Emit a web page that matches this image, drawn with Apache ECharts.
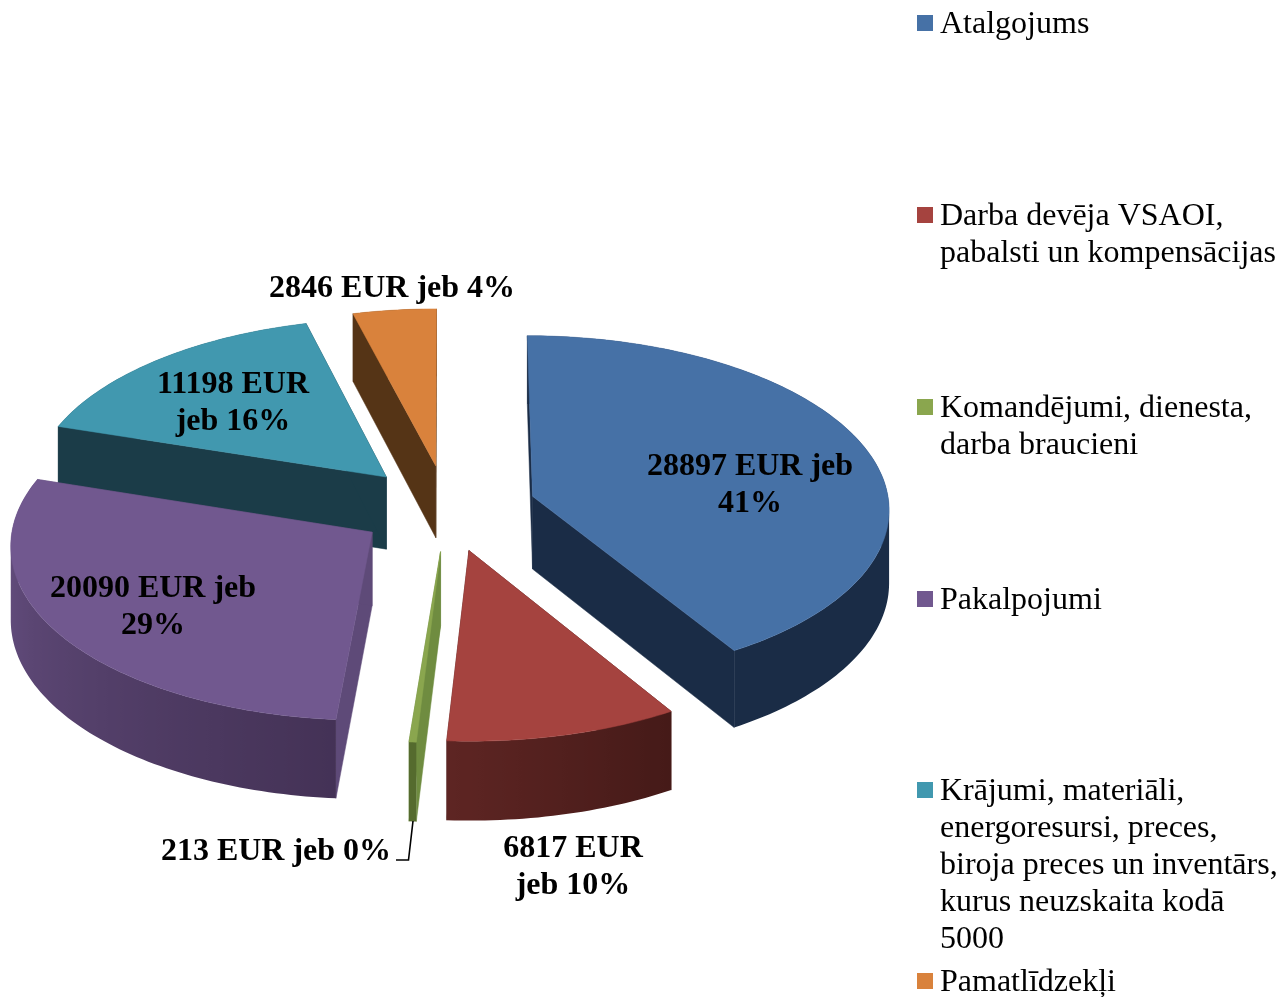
<!DOCTYPE html>
<html>
<head>
<meta charset="utf-8">
<style>html,body{margin:0;padding:0;background:#fff}#chart{width:1279px;height:997px}</style>
<script src="https://cdn.jsdelivr.net/npm/echarts@6/dist/echarts.min.js"></script>
</head>
<body>
<div id="chart"></div>
<script>
// ---- data ----
const categoryLines = [
  ['Atalgojums'],
  ['Darba devēja VSAOI,', 'pabalsti un kompensācijas'],
  ['Komandējumi, dienesta,', 'darba braucieni'],
  ['Pakalpojumi'],
  ['Krājumi, materiāli,', 'energoresursi, preces,', 'biroja preces un inventārs,', 'kurus neuzskaita kodā', '5000'],
  ['Pamatlīdzekļi']
];
const values = [28897, 6817, 213, 20090, 11198, 2846];
const percents = [41, 10, 0, 29, 16, 4];

// ---- styles and layout ----
const topColors = ['#4671A6', '#A5433F', '#8AA64E', '#71588F', '#4198AF', '#D9823C'];
const faceColors = ['#1A2C46', '#4A1C1A', '#6F8C40', '#5E4A78', '#1B3C48', '#553416'];
const wallFrom = [[26, 44, 70], [69, 26, 24], [85, 107, 46], [68, 50, 86], [27, 60, 72], [85, 52, 22]];
const wallTo = [[26, 44, 70], [94, 37, 35], [85, 107, 46], [98, 76, 124], [27, 60, 72], [85, 52, 22]];
const view = { cx: 447, cy: 508, a: 357, b: 172.5, p: 0.065, depth: 73, explode: 0.25 };
const LH = 37, FONT_B = 'bold 32px "Liberation Serif"';
const legendTops = [6, 198, 390, 582, 773, 964];
const labelBoxes = [
  { x: 750, y: 485, text: (v, p) => v + ' EUR jeb\n' + p },
  { x: 573, y: 867, text: (v, p) => v + ' EUR\njeb ' + p },
  { x: 276, y: 852, text: (v, p) => v + ' EUR jeb ' + p },
  { x: 153, y: 607, text: (v, p) => v + ' EUR jeb\n' + p },
  { x: 233, y: 403, text: (v, p) => v + ' EUR\njeb ' + p },
  { x: 392, y: 289, text: (v, p) => v + ' EUR jeb ' + p }
];

const total = values.reduce((s, v) => s + v, 0);
const starts = [];
values.reduce((acc, v, i) => { starts[i] = acc; return acc + v; }, 0);
const toAngle = v => v / total * Math.PI * 2;

function project(X, Y, Z) {
  const s = 1 / (1 + view.p * Y);
  return [view.cx + view.a * X * s, view.cy - view.b * Y * s + view.depth * Z * s];
}
function lerp(c1, c2, t) {
  return 'rgb(' + c1.map((c, k) => Math.round(c + (c2[k] - c) * t)).join(',') + ')';
}
// a closed sub-path, always wound the same way so overlaps stay filled
function subPath(pts) {
  let area = 0;
  pts.forEach((q, n) => {
    const r = pts[(n + 1) % pts.length];
    area += q[0] * r[1] - r[0] * q[1];
  });
  const list = area < 0 ? pts.slice().reverse() : pts;
  return 'M' + list.map(q => q[0].toFixed(2) + ' ' + q[1].toFixed(2)).join('L') + 'Z';
}
// horizontal shading: stops follow the rim only while its x keeps one direction
function wallGradient(i, top) {
  let run = 1;
  const dir = Math.sign(top[1][0] - top[0][0]);
  while (run < top.length - 1 && Math.sign(top[run + 1][0] - top[run][0]) === dir) run++;
  const used = top.slice(0, run + 1);
  const xs = used.map(q => q[0]);
  const minX = Math.min.apply(null, xs), maxX = Math.max.apply(null, xs);
  const colorStops = used.map((q, k) => ({
    offset: maxX > minX ? (q[0] - minX) / (maxX - minX) : 0,
    color: lerp(wallFrom[i], wallTo[i], k / run)
  })).sort((u, v) => u.offset - v.offset);
  return { type: 'linear', x: minX, y: 0, x2: maxX, y2: 0, global: true, colorStops };
}
function renderSlice(i) {
  return function () {
    const a0 = toAngle(starts[i]), a1 = toAngle(starts[i] + values[i]), mid = (a0 + a1) / 2;
    const ox = view.explode * Math.sin(mid), oy = view.explode * Math.cos(mid);
    const steps = Math.max(2, Math.ceil((a1 - a0) / 0.02));
    const rim = Z => {
      const pts = [];
      for (let k = 0; k <= steps; k++) {
        const t = a0 + (a1 - a0) * k / steps;
        pts.push(project(ox + Math.sin(t), oy + Math.cos(t), Z));
      }
      return pts;
    };
    const top = rim(0), bottom = rim(1);
    const apexT = project(ox, oy, 0), apexB = project(ox, oy, 1);
    const children = [];
    const poly = (points, fill) => children.push({
      type: 'polygon', shape: { points },
      style: { fill, stroke: fill, lineWidth: 0.5 }
    });
    // cut faces
    poly([apexT, top[0], bottom[0], apexB], faceColors[i]);
    poly([apexT, top[steps], bottom[steps], apexB], faceColors[i]);
    // outer wall: one path made of strips
    let pathData = '';
    for (let k = 0; k < steps; k++) {
      pathData += subPath([top[k], top[k + 1], bottom[k + 1], bottom[k]]);
    }
    children.push({
      type: 'path', shape: { pathData },
      style: { fill: wallGradient(i, top) }
    });
    // top face
    poly([apexT].concat(top), topColors[i]);
    return { type: 'group', children };
  };
}

// painter order: far slices first
const order = values.map((v, i) => i).sort((p, q) => {
  const m = j => toAngle(starts[j] + values[j] / 2);
  return Math.cos(m(q)) - Math.cos(m(p));
});

const categories = categoryLines.map(l => l.join(' '));
const series = values.map((v, i) => ({
  type: 'custom',
  name: categories[i],
  coordinateSystem: 'none',
  data: [v],
  z: 2 + order.indexOf(i),
  silent: true,
  itemStyle: { color: topColors[i] },
  renderItem: renderSlice(i)
}));

const legends = categoryLines.map((lines, i) => {
  const h = lines.length * LH;
  return {
    left: 917, top: legendTops[i], padding: 0, orient: 'vertical',
    itemWidth: 18, itemHeight: h, itemGap: 0, selectedMode: false,
    symbolKeepAspect: true,
    data: [{
      name: categories[i],
      icon: 'path://M0 0L0.01 0M18 ' + h + 'L17.99 ' + h + 'M0 9L16 9L16 25L0 25Z',
      itemStyle: { color: topColors[i], borderWidth: 0 }
    }],
    formatter: () => lines.join('\n'),
    textStyle: { fontFamily: 'Liberation Serif', fontSize: 32, lineHeight: LH, color: '#000' }
  };
});

const graphics = values.map((v, i) => ({
  type: 'text', z: 100, silent: true,
  style: {
    text: labelBoxes[i].text(v, percents[i] + '%'), x: labelBoxes[i].x, y: labelBoxes[i].y,
    align: 'center', verticalAlign: 'middle',
    font: FONT_B, lineHeight: LH, fill: '#000'
  }
}));
graphics.push({
  type: 'polyline', z: 100, silent: true,
  shape: { points: [[396, 860], [408.5, 860], [413, 821]] },
  style: { stroke: '#000', lineWidth: 1.6, fill: null }
});

const chart = echarts.init(document.getElementById('chart'), null, { renderer: 'canvas' });
chart.setOption({
  animation: false,
  backgroundColor: '#fff',
  color: topColors,
  legend: legends,
  series,
  graphic: graphics
});
</script>
</body>
</html>
